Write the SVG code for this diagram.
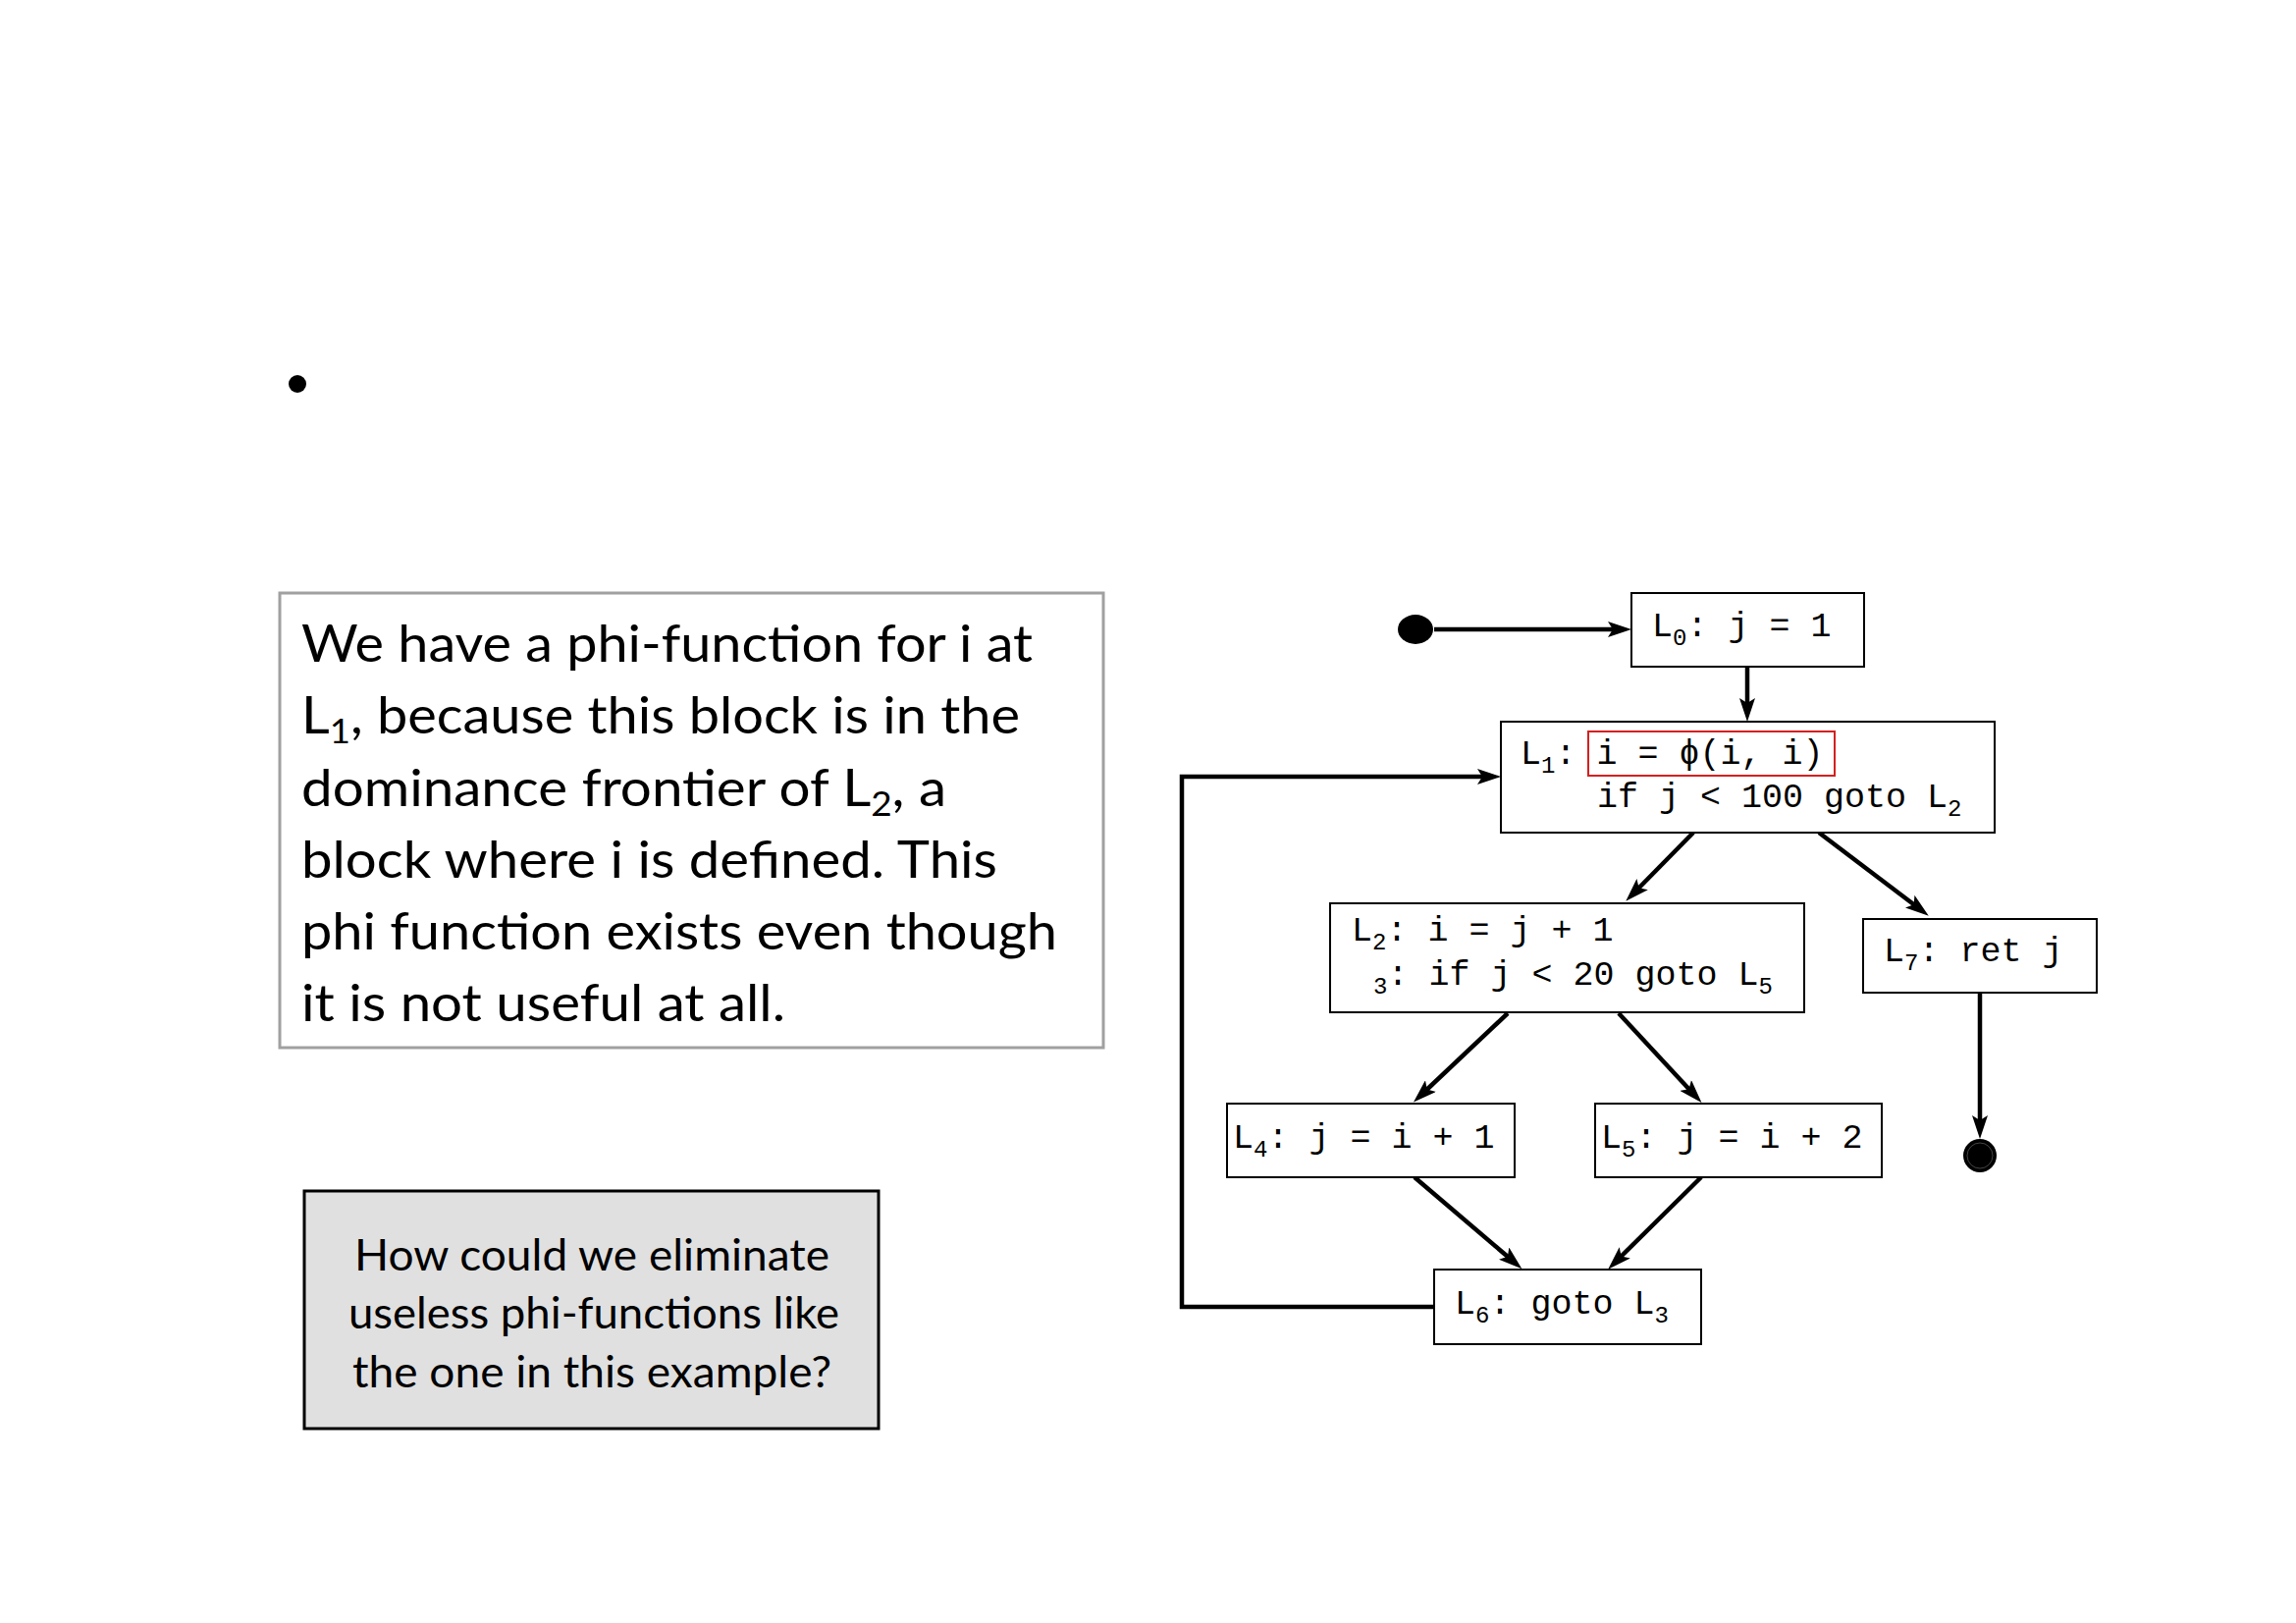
<svg xmlns="http://www.w3.org/2000/svg" width="2339" height="1653" viewBox="0 0 2339 1653">
<style>
.box{fill:#fff;stroke:#000;stroke-width:2}
.code{font-family:"Liberation Mono","DejaVu Sans Mono",monospace;font-size:35px;fill:#000}
.sub{font-size:24px}
.edge{fill:none;stroke:#000;stroke-width:4.5}
.note{font-family:Lato,"Open Sans","Liberation Sans",sans-serif;fill:#000}
</style>
<defs>
<marker id="ah" viewBox="0 0 24 16" refX="13" refY="8" markerWidth="24" markerHeight="16" markerUnits="userSpaceOnUse" orient="auto">
<path d="M0,0 L24,8 L0,16 L5,8 Z" fill="#000"/>
</marker>
</defs>
<rect width="2339" height="1653" fill="#fff"/>

<g id="bullet"><circle cx="303" cy="391" r="9" fill="#000"/></g>

<g id="explanation">
<rect x="285" y="604" width="839" height="463" fill="#fff" stroke="#a0a0a0" stroke-width="3"/>
<g class="note" font-size="52">
<text x="307" y="674" textLength="745" lengthAdjust="spacingAndGlyphs">We have a phi-function for i at</text>
<text x="307" y="747" textLength="732" lengthAdjust="spacingAndGlyphs">L<tspan font-size="34" dy="10">1</tspan><tspan dy="-10">, because this block is in the</tspan></text>
<text x="307" y="821" textLength="657" lengthAdjust="spacingAndGlyphs">dominance frontier of L<tspan font-size="34" dy="10">2</tspan><tspan dy="-10">, a</tspan></text>
<text x="307" y="894" textLength="709" lengthAdjust="spacingAndGlyphs">block where i is defined. This</text>
<text x="307" y="967" textLength="770" lengthAdjust="spacingAndGlyphs">phi function exists even though</text>
<text x="307" y="1040" textLength="493" lengthAdjust="spacingAndGlyphs">it is not useful at all.</text>
</g>
</g>

<g id="question">
<rect x="310" y="1213" width="585" height="242" fill="#e0e0e0" stroke="#000" stroke-width="3"/>
<g class="note" font-size="44" text-anchor="middle">
<text x="603" y="1294" textLength="484" lengthAdjust="spacingAndGlyphs">How could we eliminate</text>
<text x="605" y="1353" textLength="500" lengthAdjust="spacingAndGlyphs">useless phi-functions like</text>
<text x="603" y="1413" textLength="488" lengthAdjust="spacingAndGlyphs">the one in this example?</text>
</g>
</g>

<g id="connectors">
<path class="edge" d="M1461,641 L1651,641" marker-end="url(#ah)"/>
<path class="edge" d="M1780,679 L1780,724" marker-end="url(#ah)"/>
<path class="edge" d="M1461,1331 L1204,1331 L1204,791 L1518,791" marker-end="url(#ah)"/>
<path class="edge" d="M1725,848 L1664,910" marker-end="url(#ah)"/>
<path class="edge" d="M1853,848 L1956,926" marker-end="url(#ah)"/>
<path class="edge" d="M1536,1032 L1448,1115" marker-end="url(#ah)"/>
<path class="edge" d="M1649,1032 L1726,1115" marker-end="url(#ah)"/>
<path class="edge" d="M1441,1199 L1542,1285" marker-end="url(#ah)"/>
<path class="edge" d="M1733,1199 L1646,1285" marker-end="url(#ah)"/>
<path class="edge" d="M2017,1011 L2017,1149" marker-end="url(#ah)"/>
</g>

<g id="start"><ellipse cx="1442" cy="641" rx="18" ry="15" fill="#000"/></g>

<g id="end"><circle cx="2017" cy="1177" r="17" fill="#000"/><circle cx="2017" cy="1177" r="13" fill="none" stroke="#444" stroke-width="1"/></g>

<g id="L0">
<rect class="box" x="1662" y="604" width="237" height="75"/>
<text class="code" x="1683" y="648">L<tspan class="sub" dy="9">0</tspan><tspan dy="-9">: j = 1</tspan></text>
</g>

<g id="L1">
<rect class="box" x="1529" y="735" width="503" height="113"/>
<rect x="1618" y="745" width="251" height="45" fill="none" stroke="#d42020" stroke-width="2"/>
<text class="code" x="1549" y="778">L<tspan class="sub" dy="9">1</tspan><tspan dy="-9">: i = ϕ(i, i)</tspan></text>
<text class="code" x="1627" y="822">if j &lt; 100 goto L<tspan class="sub" dy="9">2</tspan></text>
</g>

<g id="L2">
<rect class="box" x="1355" y="920" width="483" height="111"/>
<text class="code" x="1377" y="958">L<tspan class="sub" dy="9">2</tspan><tspan dy="-9">: i = j + 1</tspan></text>
<text class="code" x="1399" y="1003"><tspan class="sub" dy="9">3</tspan><tspan dy="-9">: if j &lt; 20 goto L</tspan><tspan class="sub" dy="9">5</tspan></text>
</g>

<g id="L7">
<rect class="box" x="1898" y="936" width="238" height="75"/>
<text class="code" x="1919" y="979">L<tspan class="sub" dy="9">7</tspan><tspan dy="-9">: ret j</tspan></text>
</g>

<g id="L4">
<rect class="box" x="1250" y="1124" width="293" height="75"/>
<text class="code" x="1256" y="1169">L<tspan class="sub" dy="9">4</tspan><tspan dy="-9">: j = i + 1</tspan></text>
</g>

<g id="L5">
<rect class="box" x="1625" y="1124" width="292" height="75"/>
<text class="code" x="1631" y="1169">L<tspan class="sub" dy="9">5</tspan><tspan dy="-9">: j = i + 2</tspan></text>
</g>

<g id="L6">
<rect class="box" x="1461" y="1293" width="272" height="76"/>
<text class="code" x="1482" y="1338">L<tspan class="sub" dy="9">6</tspan><tspan dy="-9">: goto L</tspan><tspan class="sub" dy="9">3</tspan></text>
</g>
</svg>
